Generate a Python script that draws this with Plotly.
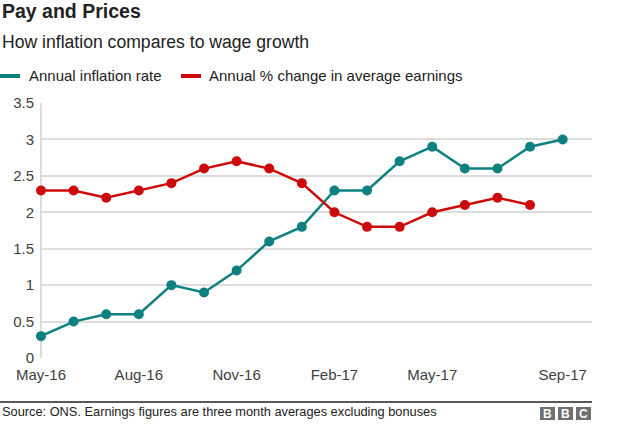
import plotly.graph_objects as go

months = ["May-16", "Jun-16", "Jul-16", "Aug-16", "Sep-16", "Oct-16", "Nov-16", "Dec-16",
          "Jan-17", "Feb-17", "Mar-17", "Apr-17", "May-17", "Jun-17", "Jul-17", "Aug-17", "Sep-17"]
inflation = [0.3, 0.5, 0.6, 0.6, 1.0, 0.9, 1.2, 1.6, 1.8, 2.3, 2.3, 2.7, 2.9, 2.6, 2.6, 2.9, 3.0]
earnings = [2.3, 2.3, 2.2, 2.3, 2.4, 2.6, 2.7, 2.6, 2.4, 2.0, 1.8, 1.8, 2.0, 2.1, 2.2, 2.1]
tick_labels = ["May-16", "Aug-16", "Nov-16", "Feb-17", "May-17", "Sep-17"]
y_ticks = [0, 0.5, 1, 1.5, 2, 2.5, 3, 3.5]
y_tick_text = ["0", "0.5", "1", "1.5", "2", "2.5", "3", "3.5"]

series_names = ["Annual inflation rate", "Annual % change in average earnings"]
TEAL = "#0f8080"
RED = "#cc0a0a"
FONT = "Liberation Sans, Arial, sans-serif"

W, H = 624, 426
L, R, T, B = 41, 32, 103, 68
PW = W - L - R
PH = H - T - B


def px(x):
    return (x - L) / PW


def py(y):
    return (H - B - y) / PH


xi_inf = list(range(len(inflation)))
xi_earn = list(range(len(earnings)))
tick_pos = [months.index(m) for m in tick_labels]

fig = go.Figure()
fig.add_trace(go.Scatter(x=xi_inf, y=inflation, mode="lines+markers", name=series_names[0],
                         line=dict(color=TEAL, width=2.5), marker=dict(size=10, color=TEAL),
                         cliponaxis=False, showlegend=False))
fig.add_trace(go.Scatter(x=xi_earn, y=earnings, mode="lines+markers", name=series_names[1],
                         line=dict(color=RED, width=2.5), marker=dict(size=10, color=RED),
                         cliponaxis=False, showlegend=False))

fig.update_layout(
    width=W, height=H,
    margin=dict(l=L, r=R, t=T, b=B),
    paper_bgcolor="white", plot_bgcolor="white",
    font=dict(family=FONT, color="#404040", size=15),
    xaxis=dict(range=[0, 16.9], tickmode="array", tickvals=tick_pos, ticktext=tick_labels,
               showgrid=False, zeroline=False, showline=False, ticks="",
               tickfont=dict(size=15, color="#404040"), ticklabelstandoff=6),
    yaxis=dict(range=[0, 3.5], tickmode="array", tickvals=y_ticks, ticktext=y_tick_text,
               showgrid=True, gridcolor="#dcdcdc", gridwidth=2, zeroline=False,
               showline=False, ticks="", tickfont=dict(size=15, color="#404040"),
               ticklabelstandoff=6),
)

shapes = [
    # y axis line
    dict(type="line", xref="paper", yref="paper", x0=0, x1=0, y0=0, y1=1,
         line=dict(color="#dcdcdc", width=2), layer="below"),
    # legend swatches
    dict(type="line", xref="paper", yref="paper", x0=px(0), x1=px(20), y0=py(76), y1=py(76),
         line=dict(color=TEAL, width=4)),
    dict(type="line", xref="paper", yref="paper", x0=px(181), x1=px(201), y0=py(76), y1=py(76),
         line=dict(color=RED, width=4)),
    # footer rule
    dict(type="line", xref="paper", yref="paper", x0=px(0), x1=px(592), y0=py(402), y1=py(402),
         line=dict(color="#222222", width=1.5)),
]
# BBC blocks
for i in range(3):
    x0 = 540 + i * 18
    shapes.append(dict(type="rect", xref="paper", yref="paper", x0=px(x0), x1=px(x0 + 15),
                       y0=py(420), y1=py(407), fillcolor="#707070", line=dict(width=0)))
fig.update_layout(shapes=shapes)

ann = [
    dict(text="<b>Pay and Prices</b>", x=px(0), y=py(11), size=19.5, color="#222222"),
    dict(text="How inflation compares to wage growth", x=px(0), y=py(42), size=17.6, color="#222222"),
    dict(text=series_names[0], x=px(27), y=py(76), size=15, color="#222222"),
    dict(text=series_names[1], x=px(207), y=py(76), size=15, color="#222222"),
    dict(text="Source: ONS. Earnings figures are three month averages excluding bonuses",
         x=px(0), y=py(411), size=12.8, color="#222222"),
]
for a in ann:
    fig.add_annotation(text=a["text"], x=a["x"], y=a["y"], xref="paper", yref="paper",
                       xanchor="left", yanchor="middle", showarrow=False,
                       font=dict(family=FONT, size=a["size"], color=a["color"]))
for i, letter in enumerate("BBC"):
    x0 = 540 + i * 18
    fig.add_annotation(text="<b>%s</b>" % letter, x=px(x0 + 7.5), y=py(413.5), xref="paper",
                       yref="paper", xanchor="center", yanchor="middle", showarrow=False,
                       font=dict(family=FONT, size=12, color="white"))

fig.write_html("out.html", config={"displayModeBar": False},
               post_script="document.body.style.margin='0';document.body.style.padding='0';")
